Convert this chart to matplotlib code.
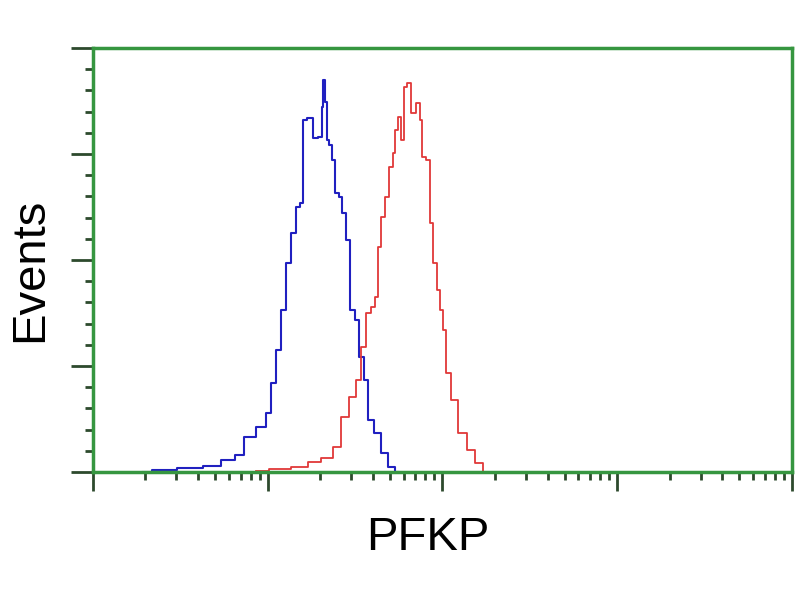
import matplotlib
matplotlib.use("Agg")
import matplotlib.pyplot as plt
from matplotlib.ticker import AutoMinorLocator, LogLocator, NullFormatter

# control histogram (blue)
blue_x = [1.94, 2.43, 3.61, 4.89, 5.97, 7.0, 7.67, 9.49, 10.0, 10.8, 11.4, 12.4,
          13.2, 14.1, 14.9, 15.9, 16.1, 17.7, 18.9, 20.2, 20.7, 21.0, 21.5, 22.1,
          23.0, 23.9, 24.6, 26.3, 27.3, 29.2, 30.0, 32.9, 34.2, 36.6, 38.0, 42.9,
          46.4, 50.9, 55.9]
blue_y = [0, 0.9, 1.9, 2.8, 5.7, 8.0, 16.5, 21.2, 27.8, 42.0, 57.5, 76.4,
          98.6, 112.7, 125.0, 126.9, 166.0, 167.0, 157.5, 158.0, 172.2, 184.9, 174.5, 156.6,
          154.2, 147.2, 131.6, 129.7, 122.2, 109.4, 76.4, 71.7, 54.2, 43.4, 24.5, 18.4,
          9.0, 2.4, 0]

# PFKP stained histogram (red)
red_x = [8.53, 11.9, 15.5, 18.4, 22.1, 25.3, 27.3, 30.8, 32.9, 35.2, 37.6, 40.1,
         41.8, 43.4, 45.8, 47.7, 50.9, 53.0, 54.4, 56.6, 59.7, 60.5, 64.6, 68.1,
         72.8, 75.7, 77.8, 84.2, 86.5, 90.0, 96.1, 98.7, 102.6, 108.2, 117.2, 128.5,
         146.8, 161.0, 179.1]
red_y = [0.5, 1.4, 2.4, 4.7, 6.6, 11.8, 25.9, 35.4, 43.4, 59.0, 75.0, 77.8,
         82.5, 106.1, 120.3, 129.7, 143.9, 150.5, 161.3, 167.5, 156.6, 181.6, 183.5, 169.3,
         174.1, 166.0, 148.6, 147.2, 117.5, 98.6, 85.8, 76.4, 67.0, 46.7, 34.0, 18.4,
         10.4, 4.2, 0]

plt.rcParams['font.family'] = ['Liberation Sans', 'DejaVu Sans']

fig = plt.figure(figsize=(8, 6), dpi=100)
ax = fig.add_axes([0.116, 0.2133, 0.874, 0.7067])

ax.plot(blue_x, blue_y, color='#2020c0', linewidth=1.5, drawstyle='steps-mid')
ax.plot(red_x, red_y, color='#e03838', linewidth=1.3, drawstyle='steps-mid')

ax.set_xscale('log')
ax.set_xlim(1, 1e4)
ax.set_ylim(0, 200)
ax.set_yticks([0, 50, 100, 150, 200])
ax.yaxis.set_minor_locator(AutoMinorLocator(5))
ax.xaxis.set_major_locator(LogLocator(base=10, numticks=10))
ax.xaxis.set_minor_locator(LogLocator(base=10, subs=range(2, 10), numticks=20))
ax.xaxis.set_minor_formatter(NullFormatter())
ax.set_xticklabels([])
ax.set_yticklabels([])

green = '#369640'
for s in ax.spines.values():
    s.set_color(green)
    s.set_linewidth(2.5)

ax.tick_params(axis='y', which='major', length=16, width=2, color='#2d4a2d')
ax.tick_params(axis='y', which='minor', length=6, width=2, color='#2d4a2d')
ax.tick_params(axis='x', which='major', length=14, width=2, color='#2d4a2d')
ax.tick_params(axis='x', which='minor', length=6, width=2, color='#2d4a2d')

fig.text(0.038, 0.55, 'Events', rotation=90, fontsize=34, ha='center', va='center')
fig.text(0.535, 0.103, 'PFKP', fontsize=34, ha='center', va='center')

fig.savefig('out.png', dpi=100)
